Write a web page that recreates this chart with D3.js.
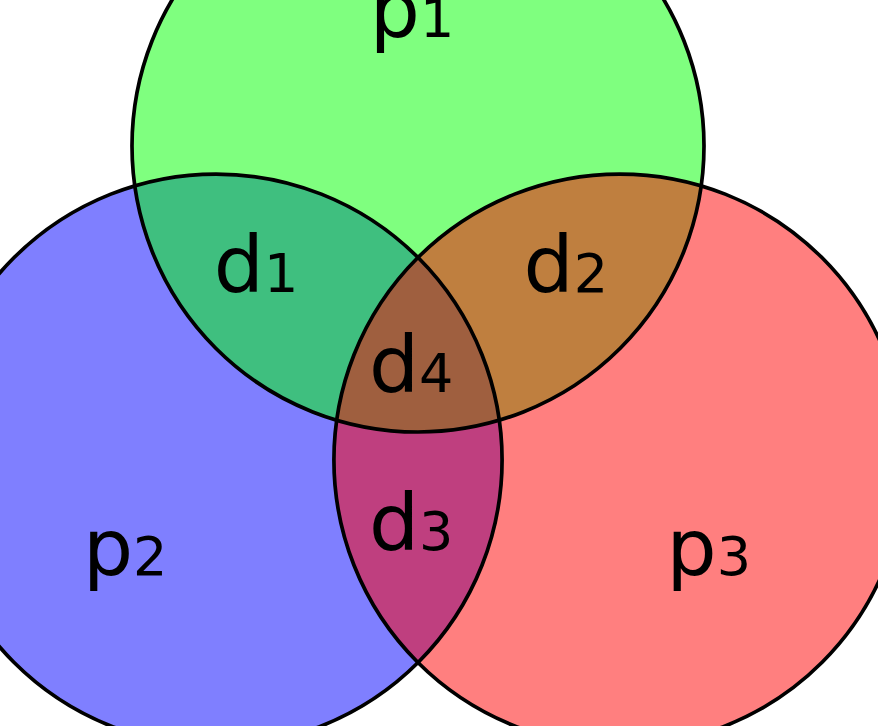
<!DOCTYPE html>
<html>
<head>
<meta charset="utf-8">
<script src="https://cdn.jsdelivr.net/npm/d3@7"></script>
<style>
  html, body { margin: 0; padding: 0; background: #fff; }
  svg { display: block; }
</style>
</head>
<body>
<div id="chart"></div>
<script>
// sets, drawn bottom to top so the 50% fills blend like the original
var setNames = ["p2", "p1", "p3"];
var setColors = ["#0000ff", "#00ff00", "#ff0000"];
var setCx = [-0.706, 0, 0.706];
var setCy = [1.098, 0, 1.098];

// region labels: letter + index digit
var labelLetters = ["p", "p", "p", "d", "d", "d", "d"];
var labelDigits = ["1", "2", "3", "1", "2", "3", "4"];
var labelX = [-0.021, -1.024, 1.017, -0.566, 0.517, -0.024, -0.024];
var labelY = [-0.381, 1.5, 1.5, 0.51, 0.51, 1.413, 0.86];

var width = 878, height = 726;
var unit = 286;

var x = d3.scaleLinear().domain([0, 1]).range([418, 418 + unit]);
var y = d3.scaleLinear().domain([0, 1]).range([146, 146 + unit]);

var svg = d3.select("#chart").append("svg")
	.attr("width", width)
	.attr("height", height);

var sets = setNames.map(function(n, i){
	return {name: n, color: setColors[i], cx: setCx[i], cy: setCy[i]};
});

svg.append("g").selectAll("circle")
	.data(sets)
	.enter()
	.append("circle")
	.attr("cx", function(d){ return x(d.cx); })
	.attr("cy", function(d){ return y(d.cy); })
	.attr("r", x(1) - x(0))
	.attr("fill", function(d){ return d.color; })
	.attr("fill-opacity", 0.5);

// outlines on top so they stay black
svg.append("g").selectAll("circle")
	.data(sets)
	.enter()
	.append("circle")
	.attr("cx", function(d){ return x(d.cx); })
	.attr("cy", function(d){ return y(d.cy); })
	.attr("r", x(1) - x(0))
	.attr("fill", "none")
	.attr("stroke", "#000")
	.attr("stroke-width", 3.7);

var labels = labelLetters.map(function(l, i){
	return {letter: l, digit: labelDigits[i], x: labelX[i], y: labelY[i]};
});

var t = svg.append("g").selectAll("text")
	.data(labels)
	.enter()
	.append("text")
	.attr("x", function(d){ return x(d.x); })
	.attr("y", function(d){ return y(d.y); })
	.attr("text-anchor", "middle")
	.attr("font-family", "DejaVu Sans")
	.attr("font-size", 79)
	.attr("fill", "#000");

t.append("tspan").text(function(d){ return d.letter; });
t.append("tspan")
	.attr("font-size", 54)
	.text(function(d){ return d.digit; });
</script>
</body>
</html>
